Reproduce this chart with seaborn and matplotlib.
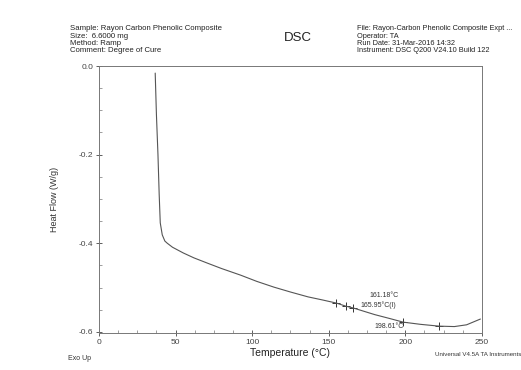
import matplotlib
matplotlib.use("Agg")
import matplotlib.pyplot as plt
import seaborn as sns
import pandas as pd
from matplotlib.ticker import MultipleLocator

sns.set_style("white")
plt.rcParams['font.family'] = ['Liberation Sans', 'DejaVu Sans']

# Data
temperature = [36.7, 37.5, 38.5, 39.3, 40.0, 41.3, 43.0, 44.6, 48.0, 55.1, 62.0, 70.9,
               80.0, 92.5, 103.0, 114.2, 125.0, 136.5, 146.0, 155.0, 161.18, 165.95,
               180.0, 190.0, 198.61, 210.0, 222.0, 232.0, 240.0, 249.0]
heat_flow = [-0.016, -0.110, -0.200, -0.290, -0.354, -0.381, -0.395, -0.400, -0.409, -0.422,
             -0.433, -0.445, -0.457, -0.472, -0.486, -0.499, -0.510, -0.521, -0.528, -0.535,
             -0.542, -0.546, -0.561, -0.570, -0.578, -0.583, -0.587, -0.588, -0.584, -0.571]

marker_temps = [155.0, 161.18, 165.95, 198.61, 222.0]
marker_flows = [-0.535, -0.542, -0.546, -0.578, -0.587]
annot_labels = ["161.18°C", "165.95°C(I)", "198.61°C"]
annot_pos = [(176.5, -0.517), (170.6, -0.539), (179.8, -0.587)]

header_left = ["Sample: Rayon Carbon Phenolic Composite", "Size:  6.6000 mg",
               "Method: Ramp", "Comment: Degree of Cure"]
header_right = ["File: Rayon-Carbon Phenolic Composite Expt ...", "Operator: TA",
                "Run Date: 31-Mar-2016 14:32", "Instrument: DSC Q200 V24.10 Build 122"]

df = pd.DataFrame({"T": temperature, "HF": heat_flow})
mk = pd.DataFrame({"T": marker_temps, "HF": marker_flows})

fig = plt.figure(figsize=(5.21, 3.70), dpi=100)
ax = fig.add_axes([0.19, 0.10, 0.735, 0.7216])

sns.lineplot(data=df, x="T", y="HF", sort=False, estimator=None, ax=ax,
             color="#555555", linewidth=0.8)
sns.scatterplot(data=mk, x="T", y="HF", ax=ax, marker="+", s=40, color="#333333",
                linewidth=0.7)

for lab, (tx, ty) in zip(annot_labels, annot_pos):
    ax.text(tx, ty, lab, fontsize=5.0, color="#333333", va="center")

ax.set_xlim(0, 250)
ax.set_ylim(-0.6025, 0.0)
ax.xaxis.set_major_locator(MultipleLocator(50))
ax.xaxis.set_minor_locator(MultipleLocator(12.5))
ax.yaxis.set_major_locator(MultipleLocator(0.2))
ax.yaxis.set_minor_locator(MultipleLocator(0.05))
ax.set_xticks([0, 50, 100, 150, 200, 250])
ax.set_xticklabels(["0", "50", "100", "150", "200", "250"])
ax.set_yticks([0.0, -0.2, -0.4, -0.6])
ax.set_yticklabels(["0.0", "-0.2", "-0.4", "-0.6"])
ax.tick_params(which="major", direction="inout", length=4, width=0.6, labelsize=6,
               colors="#444444", pad=2, bottom=True, left=True)
ax.tick_params(which="minor", direction="in", length=2, width=0.5, colors="#777777",
               bottom=True, left=True)
for s in ax.spines.values():
    s.set_color("#777777")
    s.set_linewidth(0.7)

ax.set_xlabel("Temperature (°C)", fontsize=7.5, color="#222222", labelpad=2)
ax.set_ylabel("Heat Flow (W/g)", fontsize=6.5, color="#333333", labelpad=14)

for i, line in enumerate(header_left):
    fig.text(70 / 521, 1 - (29 + 7.3 * i) / 370, line, fontsize=5.6, color="#222222", va="center")
for i, line in enumerate(header_right):
    fig.text(357 / 521, 1 - (29 + 7.3 * i) / 370, line, fontsize=5.3, color="#222222", va="center")
fig.text(298 / 521, 1 - 38 / 370, "DSC", fontsize=9.5, color="#222222", ha="center", va="center")
fig.text(80 / 521, 1 - 359 / 370, "Exo Up", fontsize=5, color="#333333", ha="center", va="center")
fig.text(435 / 521, 1 - 354 / 370, "Universal V4.5A TA Instruments", fontsize=4.4,
         color="#333333", ha="left", va="center")

fig.savefig("out.png", dpi=100, facecolor="white")
